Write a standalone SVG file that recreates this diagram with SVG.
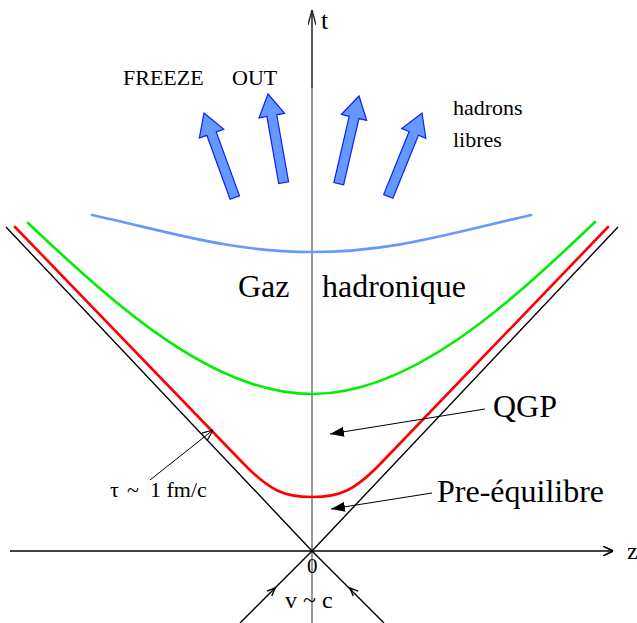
<svg xmlns="http://www.w3.org/2000/svg" width="637" height="623" viewBox="0 0 637 623">
<style>
  .txt { font-family: "Liberation Serif", "Times New Roman", serif; fill: #000; }
  .cone { stroke: #000; stroke-width: 1.4; fill: none; }
  .curve { fill: none; stroke-width: 2.6; stroke-linecap: round; }
  .fat { fill: #6699ff; stroke: #0a1fff; stroke-width: 1.2; stroke-linejoin: miter; }
  .ptr { stroke: #000; stroke-width: 1; fill: none; }
</style>
<defs>
  <marker id="open" viewBox="0 0 10 10" refX="10" refY="5" markerWidth="10" markerHeight="10" markerUnits="userSpaceOnUse" orient="auto">
    <path d="M0,0 L10,5 L0,10" fill="none" stroke="#000" stroke-width="1.6"/>
  </marker>
  <marker id="openT" viewBox="0 0 15 8" refX="15" refY="4" markerWidth="15" markerHeight="8" markerUnits="userSpaceOnUse" orient="auto">
    <path d="M0,0 L15,4 L0,8" fill="none" stroke="#222" stroke-width="1.4"/>
  </marker>
  <marker id="openS" viewBox="0 0 12 10" refX="12" refY="5" markerWidth="12" markerHeight="10" markerUnits="userSpaceOnUse" orient="auto">
    <path d="M0,0 L12,5 L0,10" fill="none" stroke="#000" stroke-width="1.2"/>
  </marker>
  <marker id="filled" viewBox="0 0 14 10" refX="14" refY="5" markerWidth="14" markerHeight="10" markerUnits="userSpaceOnUse" orient="auto">
    <path d="M0,0 L14,5 L0,10 Z" fill="#000"/>
  </marker>
  <polygon id="fatArrow" points="0,0 13,22 5,22 5,90 -5,90 -5,22 -13,22"/>
</defs>

<rect width="637" height="623" fill="#fff"/>

<g id="axes">
  <line x1="312" y1="623" x2="312" y2="87" stroke="#777" stroke-width="1.5"/>
  <line x1="312" y1="88" x2="312" y2="10" stroke="#222" stroke-width="1.5" marker-end="url(#openT)"/>
  <line x1="10" y1="551" x2="613" y2="551" stroke="#000" stroke-width="1.6" marker-end="url(#open)"/>
</g>

<g id="lightcone">
  <line class="cone" x1="6" y1="227" x2="312" y2="551"/>
  <line class="cone" x1="618" y1="227" x2="312" y2="551"/>
  <line class="cone" x1="312" y1="551" x2="240" y2="623"/>
  <line class="cone" x1="312" y1="551" x2="384" y2="623"/>
  <path class="cone" d="M271.8,596.1 L275,588 L266.9,591.2"/>
  <path class="cone" d="M358.1,591.2 L350,588 L353.2,596.1"/>
</g>

<g id="curves">
  <path id="preeq" class="curve" stroke="#ff0000" d="M15,227 L240,460 C270,492 285,497 312,497 C339,497 354,492 384,460 L608,227"/>
  <path id="qgp" class="curve" stroke="#00ee00" d="M28,223 C120,310 215,394 312,394 C409,394 503,310 595,222"/>
  <path id="freezeout" class="curve" stroke="#6699ff" d="M92,215 C170,232 230,252 312,252 C390,252 440,236 531,215"/>
</g>

<g id="hadron-arrows">
  <use href="#fatArrow" class="fat" transform="translate(204,113) rotate(-20)"/>
  <use href="#fatArrow" class="fat" transform="translate(268,94) rotate(-10)"/>
  <use href="#fatArrow" class="fat" transform="translate(359,96) rotate(13)"/>
  <use href="#fatArrow" class="fat" transform="translate(422,113) rotate(22)"/>
</g>

<g id="connectors">
  <line class="ptr" x1="485" y1="409" x2="330" y2="434" marker-end="url(#filled)"/>
  <line class="ptr" x1="432" y1="493" x2="331" y2="509" marker-end="url(#filled)"/>
  <line class="ptr" x1="150" y1="480" x2="213" y2="430" marker-end="url(#openS)"/>
</g>

<g id="labels">
  <text class="txt" x="321" y="29" font-size="26">t</text>
  <text class="txt" x="627" y="559" font-size="24">z</text>
  <text class="txt" x="307" y="573" font-size="21">0</text>
  <text class="txt" x="123" y="85" font-size="22">FREEZE</text>
  <text class="txt" x="232" y="85" font-size="22">OUT</text>
  <text class="txt" x="453" y="115" font-size="22">hadrons</text>
  <text class="txt" x="453" y="147" font-size="22">libres</text>
  <text class="txt" x="238" y="297" font-size="32">Gaz</text>
  <text class="txt" x="322" y="297" font-size="32">hadronique</text>
  <text class="txt" x="493" y="417" font-size="32">QGP</text>
  <text class="txt" x="437" y="502" font-size="32">Pre-équilibre</text>
  <text class="txt" x="110" y="497" font-size="22">τ</text>
  <text class="txt" x="127" y="497" font-size="22">~</text>
  <text class="txt" x="150" y="497" font-size="22">1 fm/c</text>
  <text class="txt" x="285" y="608" font-size="24">v ~ c</text>
</g>
</svg>
